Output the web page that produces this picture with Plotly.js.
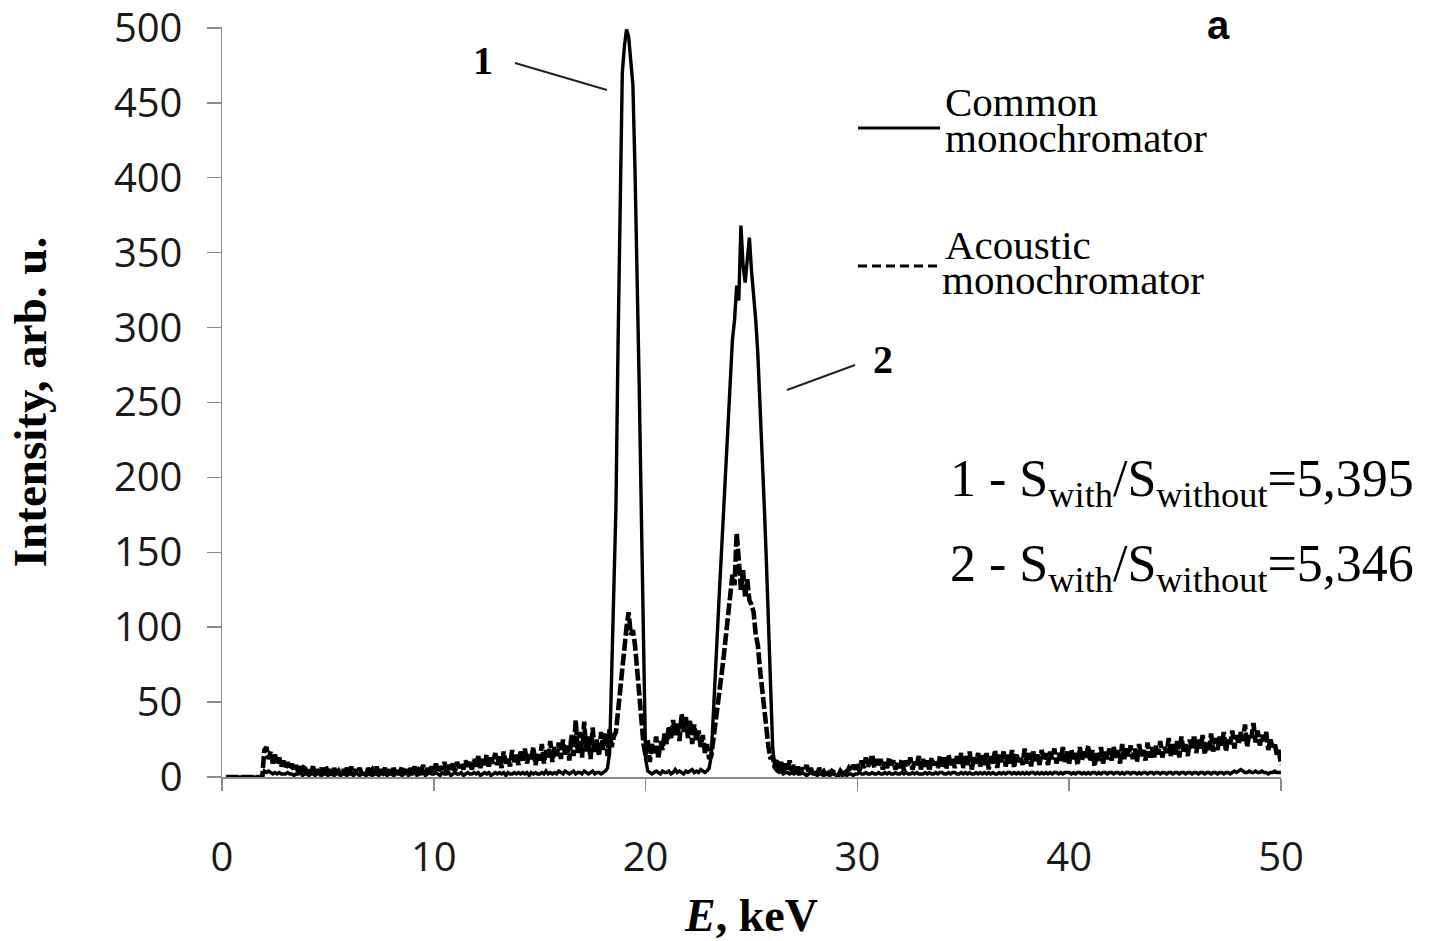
<!DOCTYPE html>
<html>
<head>
<meta charset="utf-8">
<script src="https://cdn.plot.ly/plotly-3.0.1.min.js"></script>
<style>html,body{margin:0;padding:0;background:#fff;}#chart{width:1434px;height:941px;}</style>
</head>
<body>
<div id="chart"></div>
<script>
// Energy grid: spectra sampled every 0.1 keV starting at 0 keV
const energyStart = 0;
const energyStep = 0.1;

// Common monochromator spectrum (intensity, arb. u.), one value per 0.1 keV, 0..50 keV
const commonIntensity = [
  null,null,0,0,0,0,0,0,0,0, 0,0,0,0,0,0,0,0,0,0,
  4,3,4,3,2,3,2,3,2,2,
  2,3,2,2,1,2,2,3,1,2,
  2,1,2,2,1,3,2,1,2,2,
  1,2,2,1,2,3,1,2,2,1,
  2,2,1,3,2,1,2,2,1,2,
  3,1,2,2,1,2,3,2,1,2,
  2,1,3,2,2,1,2,3,1,2,
  2,3,1,2,2,3,1,2,3,2,
  2,3,2,1,3,2,2,3,1,2,
  3,2,2,3,1,2,3,2,2,3,
  2,3,1,2,3,2,3,1,2,3,
  2,3,2,3,1,3,2,2,3,2,
  3,2,3,2,3,1,3,2,3,2,
  2,3,2,4,2,3,2,3,2,4,
  3,2,4,3,2,3,4,2,3,3,
  2,4,3,2,3,4,2,3,3,2,
  3,4,6,16,70,120,180,290,400,470,
  488,499,494,478,462,405,340,260,175,80,
  12,4,3,2,3,4,3,2,4,3,
  3,4,2,3,5,3,4,3,2,4,
  3,4,5,3,4,3,5,4,3,4,
  6,14,40,70,100,128,155,182,210,240,
  268,292,305,328,318,368,342,330,345,360,
  338,322,305,282,252,218,182,145,105,62,
  20,6,4,3,4,2,3,3,2,3,
  2,3,2,2,3,2,1,2,3,2,
  2,1,2,2,1,2,2,1,2,2,
  1,2,2,1,2,1,2,2,1,2,
  2,3,2,2,3,2,2,3,2,2,
  3,2,2,3,2,3,2,2,3,2,
  2,3,2,3,2,2,3,2,3,2,
  2,2,3,2,3,2,2,3,2,3,
  3,2,2,3,2,3,3,2,2,3,
  2,3,2,3,2,2,3,2,3,2,
  3,2,3,2,3,2,2,3,2,3,
  2,3,3,2,3,2,3,2,3,2,
  3,2,3,3,2,3,2,3,2,3,
  2,3,2,3,3,2,3,2,3,3,
  3,2,3,2,3,3,2,3,2,3,
  2,3,3,2,3,2,3,3,2,3,
  3,2,3,3,2,3,2,3,3,2,
  3,3,2,3,2,3,3,2,3,3,
  2,3,3,2,3,3,2,3,3,2,
  3,3,2,3,3,2,3,3,2,3,
  3,2,3,3,2,3,3,2,3,3,
  2,3,3,2,3,3,2,3,4,3,
  4,5,4,3,3,4,3,3,4,3,
  3,4,3,3,2,3,3,4,3,3,
  3
];

// Acoustic monochromator spectrum (intensity, arb. u.), one value per 0.1 keV, 0..50 keV
const acousticIntensity = [
  null,null,0,0,0,0,0,0,0,0, 0,0,0,0,0,0,0,0,0,0,
  18,20,12,17,9,15,8,13,7,11,
  6,10,5,9,4,8,3,7,5,8,
  2,6,4,7,1,5,3,6,2,7,
  3,5,1,6,2,4,1,5,3,6,
  2,7,1,5,3,6,2,4,1,6,
  3,5,2,7,1,5,3,6,2,5,
  1,6,3,5,2,7,3,5,1,6,
  3,7,2,5,4,8,2,6,3,7,
  4,9,3,7,5,10,3,8,5,9,
  4,10,6,9,5,11,7,10,5,12,
  7,14,6,12,8,15,7,13,9,16,
  8,14,6,17,9,13,7,18,10,15,
  8,17,11,19,9,15,12,20,8,16,
  11,22,9,18,13,24,10,20,14,23,
  12,25,15,21,11,28,14,38,16,30,
  13,37,17,27,12,33,16,25,14,30,
  18,30,14,32,20,27,30,45,60,78,
  92,100,110,95,98,88,72,55,35,22,
  14,25,10,22,16,27,12,24,18,30,
  22,34,25,38,28,36,24,42,30,40,
  26,38,22,35,24,31,20,28,16,22,
  12,14,25,35,45,55,70,82,95,108,
  122,135,128,163,145,125,138,120,132,118,
  115,110,95,88,72,58,45,32,20,12,
  14,6,12,4,10,3,9,5,11,4,
  8,3,7,2,6,4,8,3,6,2,
  5,2,6,3,4,1,5,2,4,3,
  3,1,4,2,5,3,6,4,8,5,
  9,4,11,6,13,7,10,15,6,12,
  7,12,5,10,6,13,8,11,5,10,
  6,12,4,11,7,13,5,10,8,14,
  5,12,7,11,4,13,8,10,6,14,
  7,13,5,15,8,12,6,14,9,16,
  6,14,8,17,5,13,9,16,7,15,
  8,16,5,14,9,18,6,15,10,17,
  7,15,9,18,6,16,10,14,8,19,
  9,16,7,17,10,15,8,18,11,16,
  8,17,12,19,9,16,11,20,10,17,
  9,18,12,16,8,20,11,17,13,21,
  10,18,7,16,11,20,9,17,12,19,
  11,20,13,18,9,22,12,19,14,21,
  12,19,10,22,14,18,11,23,13,20,
  12,21,15,24,13,20,16,26,14,22,
  15,24,13,27,17,22,14,25,18,28,
  16,25,19,28,15,23,18,29,17,26,
  18,27,21,30,17,26,22,31,19,28,
  22,30,24,35,20,29,26,36,23,31,
  21,28,24,30,18,25,20,23,15,18,
  8
];

const seriesNames = ['Common monochromator', 'Acoustic monochromator'];
const xTickValues = [0, 10, 20, 30, 40, 50];
const yTickValues = [0, 50, 100, 150, 200, 250, 300, 350, 400, 450, 500];
const ratioLabels = [
  '1 - S<sub>with</sub>/S<sub>without</sub>=5,395',
  '2 - S<sub>with</sub>/S<sub>without</sub>=5,346'
];

const serif = 'Liberation Serif, Times New Roman, serif';
const sans = 'Open Sans, Liberation Sans, sans-serif';

const traces = [
  {
    type: 'scatter', mode: 'lines', name: seriesNames[0],
    x0: energyStart, dx: energyStep, y: commonIntensity,
    line: {color: '#000', width: 3.4, dash: 'solid'},
    showlegend: false, hoverinfo: 'x+y'
  },
  {
    type: 'scatter', mode: 'lines', name: seriesNames[1],
    x0: energyStart, dx: energyStep, y: acousticIntensity,
    line: {color: '#000', width: 4.6, dash: '12px,3px'},
    showlegend: false, hoverinfo: 'x+y'
  }
];

// paper coordinate helpers for the fixed 1434x941 layout
const L = 222, R = 153, T = 27, B = 164;
const W = 1434 - L - R, H = 941 - T - B;
const px = v => (v - L) / W;
const py = v => (941 - B - v) / H;

const layout = {
  width: 1434, height: 941,
  margin: {l: L, r: R, t: T, b: B, pad: 0},
  paper_bgcolor: '#fff', plot_bgcolor: '#fff',
  showlegend: false,
  xaxis: {
    range: [0, 50], tickvals: xTickValues, ticktext: xTickValues.map(String),
    ticks: 'outside', ticklen: 12, tickwidth: 1.5, tickcolor: '#8a8a8a',
    showline: true, linecolor: '#8a8a8a', linewidth: 1.5,
    showgrid: false, zeroline: false,
    ticklabelstandoff: 32, ticklabeloverflow: 'allow',
    tickfont: {family: sans, size: 40, color: '#1a1a1a'},
    title: {text: '<i>E</i>, keV', font: {family: serif, size: 46, color: '#000', weight: 'bold'}, standoff: 36}
  },
  yaxis: {
    range: [0, 500.6], tickvals: yTickValues, ticktext: yTickValues.map(String),
    ticks: 'outside', ticklen: 14, tickwidth: 1.5, tickcolor: '#8a8a8a',
    showline: true, linecolor: '#8a8a8a', linewidth: 1.5,
    showgrid: false, zeroline: false,
    ticklabelstandoff: 16, ticklabeloverflow: 'allow',
    tickfont: {family: sans, size: 40, color: '#1a1a1a'},
    title: {text: 'Intensity, arb. u.', font: {family: serif, size: 47, color: '#000', weight: 'bold'}, standoff: 52}
  },
  shapes: [
    // legend samples
    {type: 'line', xref: 'paper', yref: 'paper', x0: px(858), x1: px(940), y0: py(128), y1: py(128), line: {color: '#000', width: 3}},
    {type: 'line', xref: 'paper', yref: 'paper', x0: px(858), x1: px(940), y0: py(266), y1: py(266), line: {color: '#000', width: 3, dash: '9px,5px'}},
    // pointer lines for peak labels
    {type: 'line', xref: 'paper', yref: 'paper', x0: px(515), y0: py(63), x1: px(607), y1: py(90), line: {color: '#222', width: 2}},
    {type: 'line', xref: 'paper', yref: 'paper', x0: px(787), y0: py(390), x1: px(855), y1: py(365), line: {color: '#222', width: 2}}
  ],
  annotations: [
    {xref: 'paper', yref: 'paper', x: px(943), y: py(102), xanchor: 'left', yanchor: 'middle', showarrow: false, text: 'Common', font: {family: serif, size: 41, color: '#000'}},
    {xref: 'paper', yref: 'paper', x: px(943), y: py(138), xanchor: 'left', yanchor: 'middle', showarrow: false, text: 'monochromator', font: {family: serif, size: 41, color: '#000'}},
    {xref: 'paper', yref: 'paper', x: px(943), y: py(245), xanchor: 'left', yanchor: 'middle', showarrow: false, text: 'Acoustic', font: {family: serif, size: 41, color: '#000'}},
    {xref: 'paper', yref: 'paper', x: px(940), y: py(280), xanchor: 'left', yanchor: 'middle', showarrow: false, text: 'monochromator', font: {family: serif, size: 41, color: '#000'}},
    {xref: 'paper', yref: 'paper', x: px(948), y: py(482), xanchor: 'left', yanchor: 'middle', showarrow: false, text: ratioLabels[0], font: {family: serif, size: 52, color: '#000'}},
    {xref: 'paper', yref: 'paper', x: px(948), y: py(567), xanchor: 'left', yanchor: 'middle', showarrow: false, text: ratioLabels[1], font: {family: serif, size: 52, color: '#000'}},
    {xref: 'paper', yref: 'paper', x: px(483), y: py(60), xanchor: 'center', yanchor: 'middle', showarrow: false, text: '<b>1</b>', font: {family: serif, size: 40, color: '#000'}},
    {xref: 'paper', yref: 'paper', x: px(883), y: py(360), xanchor: 'center', yanchor: 'middle', showarrow: false, text: '<b>2</b>', font: {family: serif, size: 40, color: '#000'}},
    {xref: 'paper', yref: 'paper', x: px(1218), y: py(25), xanchor: 'center', yanchor: 'middle', showarrow: false, text: '<b>a</b>', font: {family: 'Liberation Sans, Arial, sans-serif', size: 40, color: '#000'}}
  ]
};

Plotly.newPlot('chart', traces, layout, {displayModeBar: false, staticPlot: true});
</script>
</body>
</html>
